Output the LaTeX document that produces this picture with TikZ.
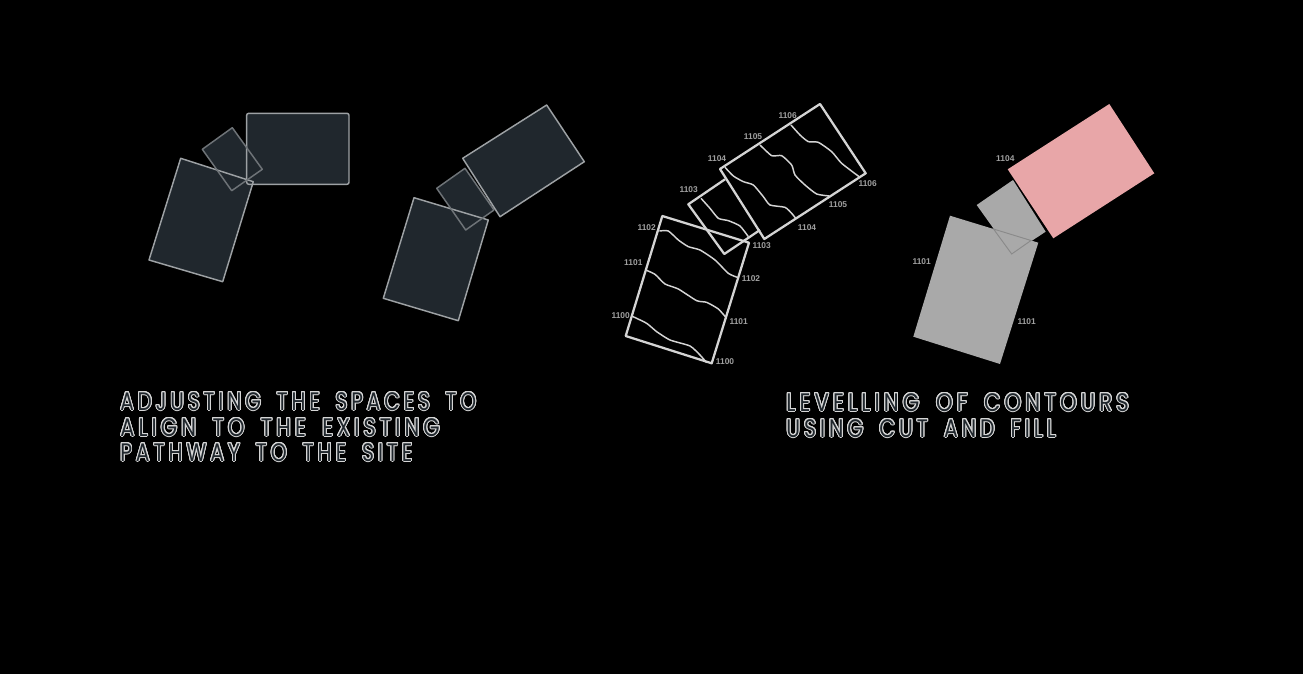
\documentclass[tikz,border=0pt]{standalone}
\usepackage{fontspec}
\usepackage[copies]{contour}
\setmainfont{Liberation Sans}
\newfontfamily\capfont[LetterSpace=16,FakeStretch=0.82,WordSpace=1.7]{Poppins}
\definecolor{slab}{HTML}{20272D}
\definecolor{edgeA}{HTML}{9DA1A4}
\definecolor{edgeB}{HTML}{6E7377}
\definecolor{contourline}{HTML}{D4D4D4}
\definecolor{grayfill}{HTML}{A9A9A9}
\definecolor{grayedge}{HTML}{8A8A8A}
\definecolor{pinkfill}{HTML}{E8A6A8}
\definecolor{labelgray}{HTML}{A0A0A0}
\definecolor{capedge}{HTML}{D6D6D6}
\contourlength{0.75pt}
\contournumber{24}
\newcommand{\captext}[2]{\scalebox{#1}[1]{\contour{capedge}{#2}}}
\tikzset{
  px/.style={x=0.75pt,y=-0.75pt},
  slabbox/.style={fill=slab,line join=round},
  edgeouter/.style={draw=edgeA,line width=1.1pt,line join=round},
  edgeinner/.style={draw=edgeB,line width=1.1pt,line join=round},
  siteframe/.style={draw=contourline,line width=1.7pt,line join=round},
  contourpath/.style={draw=contourline,line width=1.1pt,line join=round,smooth,tension=0.35},
  lvl/.style={font=\fontsize{6.3}{7}\selectfont\bfseries,text=labelgray,inner sep=0pt},
  caption/.style={font=\capfont\fontsize{19}{19}\selectfont,anchor=base west,inner sep=0pt,text=slab},
}
\begin{document}
\begin{tikzpicture}[px]
\useasboundingbox[fill=black] (0,0) rectangle (1303,674);
% panel 1
\fill[slabbox] (180.7,158.3) -- (253.3,181.7) -- (222.7,281.7) -- (149,260) -- cycle;
\fill[slabbox] (232.3,127.7) -- (262.3,169.3) -- (231.7,190.7) -- (202.3,149.3) -- cycle;
\fill[slabbox,rounded corners=1.5pt] (246.7,113.3) rectangle (349,184.3);
\draw[edgeouter] (180.7,158.3) -- (253.3,181.7) -- (222.7,281.7) -- (149,260) -- cycle;
\draw[edgeouter,rounded corners=1.5pt] (246.7,113.3) rectangle (349,184.3);
\draw[edgeinner] (232.3,127.7) -- (262.3,169.3) -- (231.7,190.7) -- (202.3,149.3) -- cycle;
% panel 2
\fill[slabbox] (414,197.7) -- (488.3,220) -- (458.3,320.7) -- (383.3,298.3) -- cycle;
\fill[slabbox] (465,168.3) -- (494,210) -- (465.7,230) -- (436.7,188.3) -- cycle;
\draw[edgeouter] (414,197.7) -- (488.3,220) -- (458.3,320.7) -- (383.3,298.3) -- cycle;
\draw[edgeinner] (465,168.3) -- (494,210) -- (465.7,230) -- (436.7,188.3) -- cycle;
\fill[slabbox] (546.7,105) -- (584.3,161.7) -- (500,216.7) -- (462.7,158.3) -- cycle;
\draw[edgeouter] (546.7,105) -- (584.3,161.7) -- (500,216.7) -- (462.7,158.3) -- cycle;
% panel 3
\draw[siteframe] (662.3,216) -- (749,242.7) -- (711.7,363.3) -- (625.7,336) -- cycle;
\draw[siteframe] (725,179.3) -- (688.3,204.3) -- (724.3,254) -- (760,230);
\draw[siteframe] (820,104) -- (865.7,173.3) -- (764.3,239) -- (720,169) -- cycle;
\begin{scope}[shift={(600,90)},x=0.25pt,y=-0.25pt]
\draw[contourpath] plot coordinates {(95,678) (140,700) (170,725) (210,750) (270,768) (300,795) (320,818)};
\draw[contourpath] plot coordinates {(137,540) (165,553) (195,582) (235,597) (290,632) (320,637) (355,657) (380,685)};
\draw[contourpath] plot coordinates {(178,423) (205,423) (235,450) (265,470) (300,480) (345,510) (385,550) (412,562)};
\draw[contourpath] plot coordinates {(303,325) (330,355) (355,385) (385,392) (420,408) (445,440)};
\draw[contourpath] plot coordinates {(375,232) (400,258) (430,275) (460,285) (490,320) (510,345) (555,352) (575,370) (587,385)};
\draw[contourpath] plot coordinates {(480,165) (515,197) (545,197) (575,225) (585,255) (615,285) (650,312) (688,318)};
\draw[contourpath] plot coordinates {(573,105) (600,135) (625,155) (655,157) (695,185) (725,220) (780,262)};
\node[lvl] (a1) at (140,412) {1102};
\node[lvl] (a2) at (100,517) {1101};
\node[lvl] (a3) at (62,677) {1100};
\node[lvl] (a4) at (375,816) {1100};
\node[lvl] (a5) at (416,696) {1101};
\node[lvl] (a6) at (453,566) {1102};
\node[lvl] (a7) at (485,468) {1103};
\node[lvl] (a8) at (266,299) {1103};
\node[lvl] (a9) at (351,207) {1104};
\node[lvl] (a10) at (459,141) {1105};
\node[lvl] (a11) at (563,77) {1106};
\node[lvl] (a12) at (803,281) {1106};
\node[lvl] (a13) at (714,343) {1105};
\node[lvl] (a14) at (621,412) {1104};
\end{scope}
% panel 4
\fill[grayfill] (950,215.7) -- (1038.3,242.7) -- (1000,364) -- (913.3,336.7) -- cycle;
\fill[grayfill] (1013,180) -- (1045.7,231.7) -- (1011.7,254) -- (976.7,205) -- cycle;
\draw[grayedge,line width=0.7pt] (993.5,229) -- (1011.7,254) -- (1031,240.5) -- cycle;
\fill[pinkfill] (1109.3,104) -- (1154.3,173.3) -- (1053.3,238.3) -- (1007.7,169.3) -- cycle;
\begin{scope}[shift={(900,90)},x=0.25pt,y=-0.25pt]
\node[lvl] (b1) at (316,207) {1104};
\node[lvl] (b2) at (65,516) {1101};
\node[lvl] (b3) at (380,696) {1101};
\end{scope}
% captions
\node[caption] (c1) at (120,410) {\captext{0.968}{ADJUSTING THE SPACES TO}};
\node[caption] (c2) at (120,436) {\captext{1.01}{ALIGN TO THE EXISTING}};
\node[caption] (c3) at (120,461) {\captext{0.978}{PATHWAY TO THE SITE}};
\node[caption] (c4) at (786,411) {\captext{1.02}{LEVELLING OF CONTOURS}};
\node[caption] (c5) at (786,437) {\captext{0.984}{USING CUT AND FILL}};
\end{tikzpicture}
\end{document}
